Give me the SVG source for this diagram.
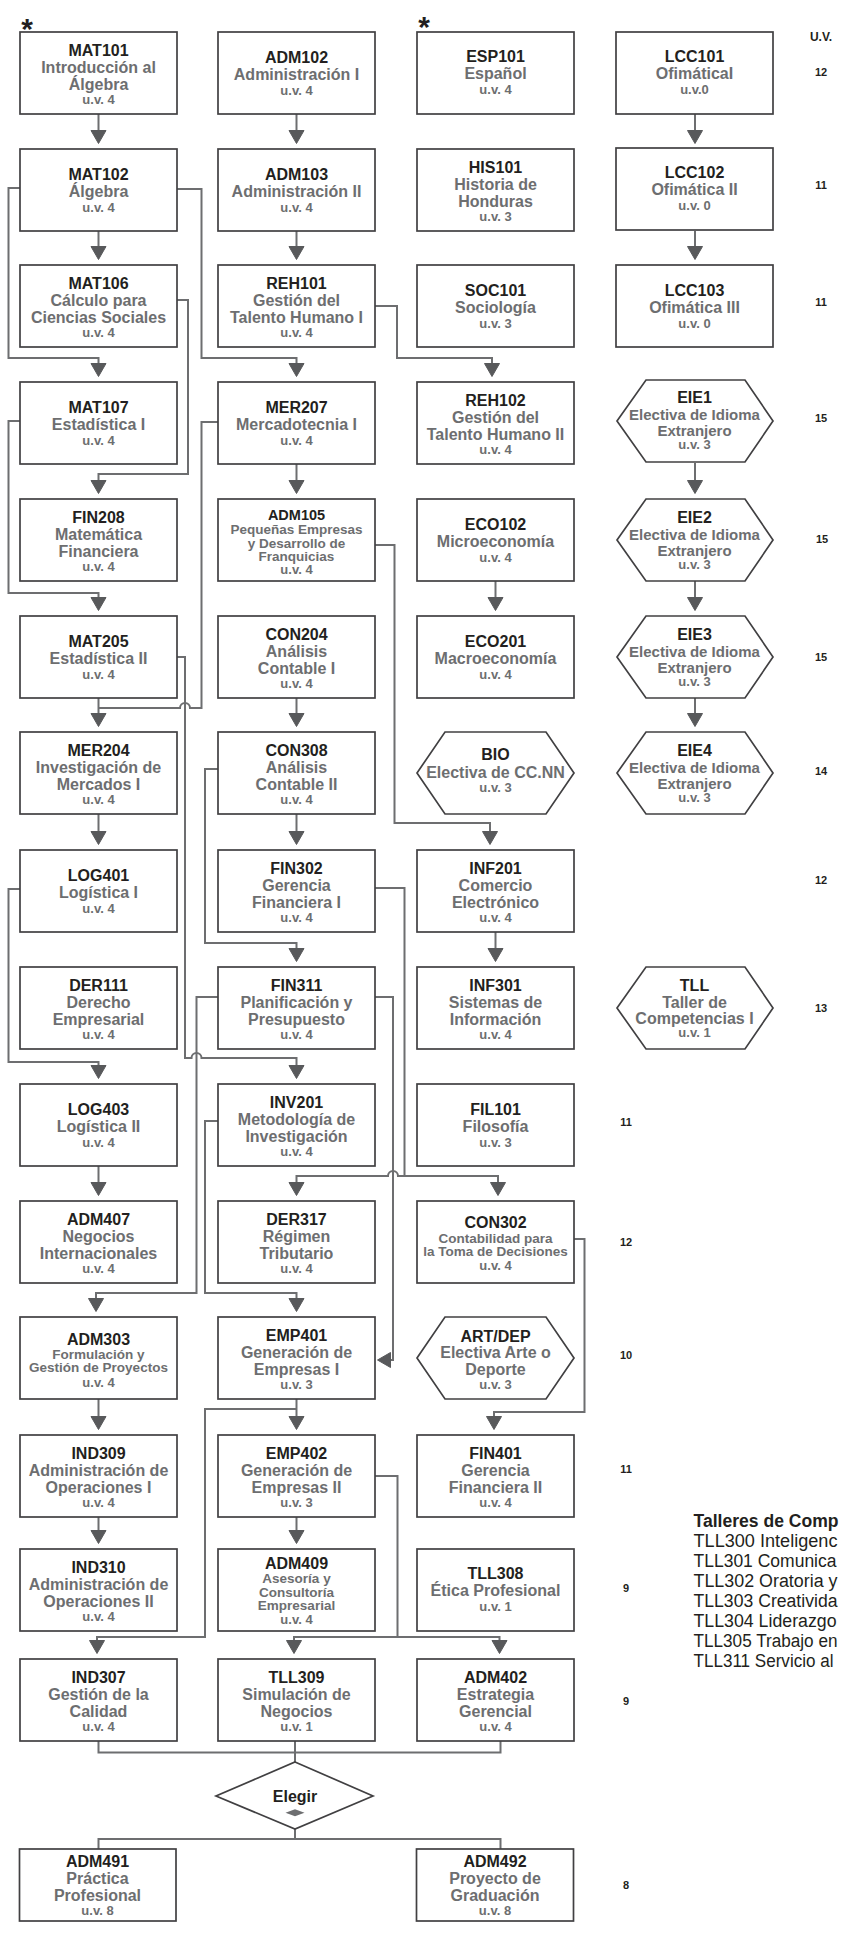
<svg xmlns="http://www.w3.org/2000/svg" width="841" height="1933" viewBox="0 0 841 1933">
<defs>
<style>
.box{fill:#fff;stroke:#414042;stroke-width:1.7}
text{font-family:'Liberation Sans',Arial,sans-serif;text-anchor:middle;font-weight:bold}
.c{font-size:16px;fill:#231f20}
.cs{font-size:14.5px;fill:#231f20}
.s{font-size:16px;fill:#6d6e70}
.s15{font-size:15px;fill:#6d6e70}
.ss{font-size:13.5px;fill:#6d6e70}
.u{font-size:13px;fill:#6d6e70}
.n{font-size:11px;fill:#231f20}
.ast{font-size:30px;fill:#231f20}
.w{fill:none;stroke:#6d6e70;stroke-width:2}
.a{marker-end:url(#ah)}
.tl{font-size:18px;font-weight:normal;fill:#231f20;text-anchor:start}
.th{font-size:18px;fill:#231f20;text-anchor:start}
</style>
<marker id="ah" markerUnits="userSpaceOnUse" markerWidth="14" markerHeight="16" viewBox="0 0 14 16" refX="3" refY="8" orient="auto" overflow="visible">
<path d="M0.5,0.5 L13.5,8 L0.5,15.5 Z" fill="#58595b" stroke="#58595b" stroke-width="1" stroke-linejoin="round"/>
</marker>
</defs>
<rect x="0" y="0" width="841" height="1933" fill="#fff"/>

<g id="connectors">
<path class="w a" d="M98.5 114 V133"/>
<path class="w a" d="M98.5 231 V249"/>
<path class="w a" d="M20 188 H8.5 V358 H98.5 V366"/>
<path class="w a" d="M177 189 H201.5 V358 H296.5 V366"/>
<path class="w a" d="M177 300 H188 V474 H98.5 V483"/>
<path class="w a" d="M20 421 H8.5 V593 H98.5 V600"/>
<path class="w a" d="M98.5 698 V716"/>
<path class="w" d="M218 422 H201.5 V708 H190 A5 5 0 0 0 180 708 H98.5"/>
<path class="w a" d="M98.5 814 V834"/>
<path class="w a" d="M20 889 H8.5 V1062 H98.5 V1068"/>
<path class="w a" d="M98.5 1166 V1185"/>
<path class="w a" d="M177 657 H185 V1058 H191.5 A5 5 0 0 1 201.5 1058 H296.5 V1068"/>
<path class="w a" d="M218 769 H205 V943 H296.5 V951"/>
<path class="w a" d="M218 997 H196.5 V1293 H96 V1301"/>
<path class="w a" d="M218 1121 H205 V1293 H296.5 V1301"/>
<path class="w a" d="M98.5 1399 V1419"/>
<path class="w a" d="M98.5 1517 V1533"/>
<path class="w a" d="M296.5 1399 V1419"/>
<path class="w a" d="M296.5 1409 H205 V1637 H97 V1643"/>
<path class="w a" d="M296.5 1517 V1533"/>
<path class="w a" d="M375 1476 H397.5 V1637 H294 V1643"/>
<path class="w a" d="M397.5 1637 H499.5 V1643"/>
<path class="w" d="M98.5 1741 V1752.5 H500.5 V1741"/>
<path class="w" d="M295 1741 V1762"/>
<path class="w" d="M295 1829 V1839"/>
<path class="w" d="M98.5 1849 V1839 H500.5 V1849"/>
<path class="w a" d="M296.5 114 V133"/>
<path class="w a" d="M296.5 231 V249"/>
<path class="w a" d="M375 306 H397 V358 H492 V366"/>
<path class="w a" d="M296.5 464 V483"/>
<path class="w a" d="M375 545 H394.5 V823 H490 V834"/>
<path class="w a" d="M296.5 698 V716"/>
<path class="w a" d="M296.5 814 V834"/>
<path class="w a" d="M375 888 H404.5 V1176 H398 A5 5 0 0 0 388 1176 H296.5 V1185"/>
<path class="w a" d="M404.5 1176 H498 V1185"/>
<path class="w a" d="M375 997 H393 V1360 H388"/>
<path class="w a" d="M495.5 581 V600"/>
<path class="w a" d="M495.5 932 V951"/>
<path class="w a" d="M574 1239 H584.5 V1412 H494 V1419"/>
<path class="w a" d="M695 114 V133"/>
<path class="w a" d="M695 231 V249"/>
<path class="w a" d="M695 463 V483"/>
<path class="w a" d="M695 581 V600"/>
<path class="w a" d="M695 698 V716"/>
</g>

<g id="marks">
<text class="ast" x="27" y="39">*</text>
<text class="ast" x="424" y="37">*</text>
</g>

<g id="MAT101"><rect class="box" x="20" y="32" width="157" height="82"/>
<text class="c" x="98.5" y="56">MAT101</text><text class="s" x="98.5" y="73">Introducción al</text><text class="s" x="98.5" y="90">Álgebra</text><text class="u" x="98.5" y="103.5">u.v. 4</text></g>
<g id="MAT102"><rect class="box" x="20" y="149" width="157" height="82"/>
<text class="c" x="98.5" y="180">MAT102</text><text class="s" x="98.5" y="197">Álgebra</text><text class="u" x="98.5" y="212">u.v. 4</text></g>
<g id="MAT106"><rect class="box" x="20" y="265" width="157" height="82"/>
<text class="c" x="98.5" y="289">MAT106</text><text class="s" x="98.5" y="306">Cálculo para</text><text class="s" x="98.5" y="323">Ciencias Sociales</text><text class="u" x="98.5" y="336.5">u.v. 4</text></g>
<g id="MAT107"><rect class="box" x="20" y="382" width="157" height="82"/>
<text class="c" x="98.5" y="413">MAT107</text><text class="s" x="98.5" y="430">Estadística I</text><text class="u" x="98.5" y="445">u.v. 4</text></g>
<g id="FIN208"><rect class="box" x="20" y="499" width="157" height="82"/>
<text class="c" x="98.5" y="523">FIN208</text><text class="s" x="98.5" y="540">Matemática</text><text class="s" x="98.5" y="557">Financiera</text><text class="u" x="98.5" y="570.5">u.v. 4</text></g>
<g id="MAT205"><rect class="box" x="20" y="616" width="157" height="82"/>
<text class="c" x="98.5" y="647">MAT205</text><text class="s" x="98.5" y="664">Estadística II</text><text class="u" x="98.5" y="679">u.v. 4</text></g>
<g id="MER204"><rect class="box" x="20" y="732" width="157" height="82"/>
<text class="c" x="98.5" y="756">MER204</text><text class="s" x="98.5" y="773">Investigación de</text><text class="s" x="98.5" y="790">Mercados I</text><text class="u" x="98.5" y="803.5">u.v. 4</text></g>
<g id="LOG401"><rect class="box" x="20" y="850" width="157" height="82"/>
<text class="c" x="98.5" y="881">LOG401</text><text class="s" x="98.5" y="898">Logística I</text><text class="u" x="98.5" y="913">u.v. 4</text></g>
<g id="DER111"><rect class="box" x="20" y="967" width="157" height="82"/>
<text class="c" x="98.5" y="991">DER111</text><text class="s" x="98.5" y="1008">Derecho</text><text class="s" x="98.5" y="1025">Empresarial</text><text class="u" x="98.5" y="1038.5">u.v. 4</text></g>
<g id="LOG403"><rect class="box" x="20" y="1084" width="157" height="82"/>
<text class="c" x="98.5" y="1115">LOG403</text><text class="s" x="98.5" y="1132">Logística II</text><text class="u" x="98.5" y="1147">u.v. 4</text></g>
<g id="ADM407"><rect class="box" x="20" y="1201" width="157" height="82"/>
<text class="c" x="98.5" y="1225">ADM407</text><text class="s" x="98.5" y="1242">Negocios</text><text class="s" x="98.5" y="1259">Internacionales</text><text class="u" x="98.5" y="1272.5">u.v. 4</text></g>
<g id="ADM303"><rect class="box" x="20" y="1317" width="157" height="82"/>
<text class="c" x="98.5" y="1344.5">ADM303</text><text class="ss" x="98.5" y="1358.8">Formulación y</text><text class="ss" x="98.5" y="1372.2">Gestión de Proyectos</text><text class="u" x="98.5" y="1386.5">u.v. 4</text></g>
<g id="IND309"><rect class="box" x="20" y="1435" width="157" height="82"/>
<text class="c" x="98.5" y="1459">IND309</text><text class="s" x="98.5" y="1476">Administración de</text><text class="s" x="98.5" y="1493">Operaciones I</text><text class="u" x="98.5" y="1506.5">u.v. 4</text></g>
<g id="IND310"><rect class="box" x="20" y="1549" width="157" height="82"/>
<text class="c" x="98.5" y="1573">IND310</text><text class="s" x="98.5" y="1590">Administración de</text><text class="s" x="98.5" y="1607">Operaciones II</text><text class="u" x="98.5" y="1620.5">u.v. 4</text></g>
<g id="IND307"><rect class="box" x="20" y="1659" width="157" height="82"/>
<text class="c" x="98.5" y="1683">IND307</text><text class="s" x="98.5" y="1700">Gestión de la</text><text class="s" x="98.5" y="1717">Calidad</text><text class="u" x="98.5" y="1730.5">u.v. 4</text></g>
<g id="ADM491"><rect class="box" x="19.5" y="1849" width="156.5" height="72"/>
<text class="c" x="97.5" y="1867">ADM491</text><text class="s" x="97.5" y="1884">Práctica</text><text class="s" x="97.5" y="1901">Profesional</text><text class="u" x="97.5" y="1915">u.v. 8</text></g>

<g id="ADM102"><rect class="box" x="218" y="32" width="157" height="82"/>
<text class="c" x="296.5" y="63">ADM102</text><text class="s" x="296.5" y="80">Administración I</text><text class="u" x="296.5" y="95">u.v. 4</text></g>
<g id="ADM103"><rect class="box" x="218" y="149" width="157" height="82"/>
<text class="c" x="296.5" y="180">ADM103</text><text class="s" x="296.5" y="197">Administración II</text><text class="u" x="296.5" y="212">u.v. 4</text></g>
<g id="REH101"><rect class="box" x="218" y="265" width="157" height="82"/>
<text class="c" x="296.5" y="289">REH101</text><text class="s" x="296.5" y="306">Gestión del</text><text class="s" x="296.5" y="323">Talento Humano I</text><text class="u" x="296.5" y="336.5">u.v. 4</text></g>
<g id="MER207"><rect class="box" x="218" y="382" width="157" height="82"/>
<text class="c" x="296.5" y="413">MER207</text><text class="s" x="296.5" y="430">Mercadotecnia I</text><text class="u" x="296.5" y="445">u.v. 4</text></g>
<g id="ADM105"><rect class="box" x="218" y="499" width="157" height="82"/>
<text class="cs" x="296.5" y="520">ADM105</text><text class="ss" x="296.5" y="534">Pequeñas Empresas</text><text class="ss" x="296.5" y="547.7">y Desarrollo de</text><text class="ss" x="296.5" y="561.4">Franquicias</text><text class="u" x="296.5" y="574">u.v. 4</text></g>
<g id="CON204"><rect class="box" x="218" y="616" width="157" height="82"/>
<text class="c" x="296.5" y="640">CON204</text><text class="s" x="296.5" y="657">Análisis</text><text class="s" x="296.5" y="674">Contable I</text><text class="u" x="296.5" y="687.5">u.v. 4</text></g>
<g id="CON308"><rect class="box" x="218" y="732" width="157" height="82"/>
<text class="c" x="296.5" y="756">CON308</text><text class="s" x="296.5" y="773">Análisis</text><text class="s" x="296.5" y="790">Contable II</text><text class="u" x="296.5" y="803.5">u.v. 4</text></g>
<g id="FIN302"><rect class="box" x="218" y="850" width="157" height="82"/>
<text class="c" x="296.5" y="874">FIN302</text><text class="s" x="296.5" y="891">Gerencia</text><text class="s" x="296.5" y="908">Financiera I</text><text class="u" x="296.5" y="921.5">u.v. 4</text></g>
<g id="FIN311"><rect class="box" x="218" y="967" width="157" height="82"/>
<text class="c" x="296.5" y="991">FIN311</text><text class="s" x="296.5" y="1008">Planificación y</text><text class="s" x="296.5" y="1025">Presupuesto</text><text class="u" x="296.5" y="1038.5">u.v. 4</text></g>
<g id="INV201"><rect class="box" x="218" y="1084" width="157" height="82"/>
<text class="c" x="296.5" y="1108">INV201</text><text class="s" x="296.5" y="1125">Metodología de</text><text class="s" x="296.5" y="1142">Investigación</text><text class="u" x="296.5" y="1155.5">u.v. 4</text></g>
<g id="DER317"><rect class="box" x="218" y="1201" width="157" height="82"/>
<text class="c" x="296.5" y="1225">DER317</text><text class="s" x="296.5" y="1242">Régimen</text><text class="s" x="296.5" y="1259">Tributario</text><text class="u" x="296.5" y="1272.5">u.v. 4</text></g>
<g id="EMP401"><rect class="box" x="218" y="1317" width="157" height="82"/>
<text class="c" x="296.5" y="1341">EMP401</text><text class="s" x="296.5" y="1358">Generación de</text><text class="s" x="296.5" y="1375">Empresas I</text><text class="u" x="296.5" y="1388.5">u.v. 3</text></g>
<g id="EMP402"><rect class="box" x="218" y="1435" width="157" height="82"/>
<text class="c" x="296.5" y="1459">EMP402</text><text class="s" x="296.5" y="1476">Generación de</text><text class="s" x="296.5" y="1493">Empresas II</text><text class="u" x="296.5" y="1506.5">u.v. 3</text></g>
<g id="ADM409"><rect class="box" x="218" y="1549" width="157" height="82"/>
<text class="c" x="296.5" y="1569">ADM409</text><text class="ss" x="296.5" y="1583">Asesoría y</text><text class="ss" x="296.5" y="1596.7">Consultoría</text><text class="ss" x="296.5" y="1610.4">Empresarial</text><text class="u" x="296.5" y="1624">u.v. 4</text></g>
<g id="TLL309"><rect class="box" x="218" y="1659" width="157" height="82"/>
<text class="c" x="296.5" y="1683">TLL309</text><text class="s" x="296.5" y="1700">Simulación de</text><text class="s" x="296.5" y="1717">Negocios</text><text class="u" x="296.5" y="1730.5">u.v. 1</text></g>
<g id="Elegir"><polygon class="box" points="295,1762 373,1796 295,1829 216,1796"/>
<text class="c" x="295" y="1802">Elegir</text><polygon points="285.5,1812.7 295,1809.2 304.5,1812.7 295,1816.2" fill="#6d6e70"/></g>

<g id="ESP101"><rect class="box" x="417" y="32" width="157" height="82"/>
<text class="c" x="495.5" y="62">ESP101</text><text class="s" x="495.5" y="79">Español</text><text class="u" x="495.5" y="94">u.v. 4</text></g>
<g id="HIS101"><rect class="box" x="417" y="149" width="157" height="82"/>
<text class="c" x="495.5" y="173">HIS101</text><text class="s" x="495.5" y="190">Historia de</text><text class="s" x="495.5" y="207">Honduras</text><text class="u" x="495.5" y="220.5">u.v. 3</text></g>
<g id="SOC101"><rect class="box" x="417" y="265" width="157" height="82"/>
<text class="c" x="495.5" y="296">SOC101</text><text class="s" x="495.5" y="313">Sociología</text><text class="u" x="495.5" y="328">u.v. 3</text></g>
<g id="REH102"><rect class="box" x="417" y="382" width="157" height="82"/>
<text class="c" x="495.5" y="406">REH102</text><text class="s" x="495.5" y="423">Gestión del</text><text class="s" x="495.5" y="440">Talento Humano II</text><text class="u" x="495.5" y="453.5">u.v. 4</text></g>
<g id="ECO102"><rect class="box" x="417" y="499" width="157" height="82"/>
<text class="c" x="495.5" y="530">ECO102</text><text class="s" x="495.5" y="547">Microeconomía</text><text class="u" x="495.5" y="562">u.v. 4</text></g>
<g id="ECO201"><rect class="box" x="417" y="616" width="157" height="82"/>
<text class="c" x="495.5" y="647">ECO201</text><text class="s" x="495.5" y="664">Macroeconomía</text><text class="u" x="495.5" y="679">u.v. 4</text></g>
<g id="BIO"><polygon class="box" points="417,773 445,732 546,732 574,773 546,814 445,814"/>
<text class="c" x="495.5" y="760">BIO</text><text class="s" x="495.5" y="778">Electiva de CC.NN</text><text class="u" x="495.5" y="792">u.v. 3</text></g>
<g id="INF201"><rect class="box" x="417" y="850" width="157" height="82"/>
<text class="c" x="495.5" y="874">INF201</text><text class="s" x="495.5" y="891">Comercio</text><text class="s" x="495.5" y="908">Electrónico</text><text class="u" x="495.5" y="921.5">u.v. 4</text></g>
<g id="INF301"><rect class="box" x="417" y="967" width="157" height="82"/>
<text class="c" x="495.5" y="991">INF301</text><text class="s" x="495.5" y="1008">Sistemas de</text><text class="s" x="495.5" y="1025">Información</text><text class="u" x="495.5" y="1038.5">u.v. 4</text></g>
<g id="FIL101"><rect class="box" x="417" y="1084" width="157" height="82"/>
<text class="c" x="495.5" y="1115">FIL101</text><text class="s" x="495.5" y="1132">Filosofía</text><text class="u" x="495.5" y="1147">u.v. 3</text></g>
<g id="CON302"><rect class="box" x="417" y="1201" width="157" height="82"/>
<text class="c" x="495.5" y="1228">CON302</text><text class="ss" x="495.5" y="1242.5">Contabilidad para</text><text class="ss" x="495.5" y="1256">la Toma de Decisiones</text><text class="u" x="495.5" y="1270">u.v. 4</text></g>
<g id="ARTDEP"><polygon class="box" points="417,1358 445,1317 546,1317 574,1358 546,1399 445,1399"/>
<text class="c" x="495.5" y="1341.5">ART/DEP</text><text class="s" x="495.5" y="1358">Electiva Arte o</text><text class="s" x="495.5" y="1375">Deporte</text><text class="u" x="495.5" y="1388.5">u.v. 3</text></g>
<g id="FIN401"><rect class="box" x="417" y="1435" width="157" height="82"/>
<text class="c" x="495.5" y="1459">FIN401</text><text class="s" x="495.5" y="1476">Gerencia</text><text class="s" x="495.5" y="1493">Financiera II</text><text class="u" x="495.5" y="1506.5">u.v. 4</text></g>
<g id="TLL308"><rect class="box" x="417" y="1549" width="157" height="82"/>
<text class="c" x="495.5" y="1579">TLL308</text><text class="s" x="495.5" y="1596">Ética Profesional</text><text class="u" x="495.5" y="1611">u.v. 1</text></g>
<g id="ADM402"><rect class="box" x="417" y="1659" width="157" height="82"/>
<text class="c" x="495.5" y="1683">ADM402</text><text class="s" x="495.5" y="1700">Estrategia</text><text class="s" x="495.5" y="1717">Gerencial</text><text class="u" x="495.5" y="1730.5">u.v. 4</text></g>
<g id="ADM492"><rect class="box" x="416.5" y="1849" width="157" height="72"/>
<text class="c" x="495" y="1867">ADM492</text><text class="s" x="495" y="1884">Proyecto de</text><text class="s" x="495" y="1901">Graduación</text><text class="u" x="495" y="1915">u.v. 8</text></g>

<g id="LCC101"><rect class="box" x="616" y="32" width="157" height="82"/>
<text class="c" x="694.5" y="62">LCC101</text><text class="s" x="694.5" y="79">OfimáticaI</text><text class="u" x="694.5" y="94">u.v.0</text></g>
<g id="LCC102"><rect class="box" x="616" y="148" width="157" height="82"/>
<text class="c" x="694.5" y="178">LCC102</text><text class="s" x="694.5" y="195">Ofimática II</text><text class="u" x="694.5" y="210">u.v. 0</text></g>
<g id="LCC103"><rect class="box" x="616" y="265" width="157" height="82"/>
<text class="c" x="694.5" y="296">LCC103</text><text class="s" x="694.5" y="313">Ofimática III</text><text class="u" x="694.5" y="328">u.v. 0</text></g>
<g id="EIE1"><polygon class="box" points="617,421 646,380 745,380 773,421 745,462 646,462"/>
<text class="c" x="694.5" y="403">EIE1</text><text class="s15" x="694.5" y="419.5">Electiva de Idioma</text><text class="s15" x="694.5" y="435.5">Extranjero</text><text class="u" x="694.5" y="449">u.v. 3</text></g>
<g id="EIE2"><polygon class="box" points="617,540 646,499 745,499 773,540 745,581 646,581"/>
<text class="c" x="694.5" y="523">EIE2</text><text class="s15" x="694.5" y="539.5">Electiva de Idioma</text><text class="s15" x="694.5" y="555.5">Extranjero</text><text class="u" x="694.5" y="569">u.v. 3</text></g>
<g id="EIE3"><polygon class="box" points="617,657 646,616 745,616 773,657 745,698 646,698"/>
<text class="c" x="694.5" y="640">EIE3</text><text class="s15" x="694.5" y="656.5">Electiva de Idioma</text><text class="s15" x="694.5" y="672.5">Extranjero</text><text class="u" x="694.5" y="686">u.v. 3</text></g>
<g id="EIE4"><polygon class="box" points="617,773 646,732 745,732 773,773 745,814 646,814"/>
<text class="c" x="694.5" y="756">EIE4</text><text class="s15" x="694.5" y="772.5">Electiva de Idioma</text><text class="s15" x="694.5" y="788.5">Extranjero</text><text class="u" x="694.5" y="802">u.v. 3</text></g>
<g id="TLL"><polygon class="box" points="617,1008 646,967 745,967 773,1008 745,1049 646,1049"/>
<text class="c" x="694.5" y="991">TLL</text><text class="s" x="694.5" y="1007.5">Taller de</text><text class="s" x="694.5" y="1024">Competencias I</text><text class="u" x="694.5" y="1037">u.v. 1</text></g>

<g id="uv-column">
<text class="n" x="821" y="41" style="font-size:12px">U.V.</text>
<text class="n" x="821" y="76">12</text>
<text class="n" x="821" y="189">11</text>
<text class="n" x="821" y="305.5">11</text>
<text class="n" x="821" y="422">15</text>
<text class="n" x="822" y="543">15</text>
<text class="n" x="821" y="660.5">15</text>
<text class="n" x="821" y="774.5">14</text>
<text class="n" x="821" y="884">12</text>
<text class="n" x="821" y="1011.5">13</text>
<text class="n" x="626" y="1125.5">11</text>
<text class="n" x="626" y="1245.5">12</text>
<text class="n" x="626" y="1359">10</text>
<text class="n" x="626" y="1473">11</text>
<text class="n" x="626" y="1592">9</text>
<text class="n" x="626" y="1704.5">9</text>
<text class="n" x="626" y="1889">8</text>
</g>

<g id="talleres">
<text class="th" x="693.5" y="1527" textLength="145" lengthAdjust="spacingAndGlyphs">Talleres de Comp</text>
<text class="tl" x="693.5" y="1547" textLength="144" lengthAdjust="spacingAndGlyphs">TLL300 Inteligenc</text>
<text class="tl" x="693.5" y="1567" textLength="143" lengthAdjust="spacingAndGlyphs">TLL301 Comunica</text>
<text class="tl" x="693.5" y="1587" textLength="144" lengthAdjust="spacingAndGlyphs">TLL302 Oratoria y</text>
<text class="tl" x="693.5" y="1607" textLength="144" lengthAdjust="spacingAndGlyphs">TLL303 Creativida</text>
<text class="tl" x="693.5" y="1627" textLength="143" lengthAdjust="spacingAndGlyphs">TLL304 Liderazgo</text>
<text class="tl" x="693.5" y="1647" textLength="144" lengthAdjust="spacingAndGlyphs">TLL305 Trabajo en</text>
<text class="tl" x="693.5" y="1667" textLength="140" lengthAdjust="spacingAndGlyphs">TLL311 Servicio al</text>
</g>
</svg>
